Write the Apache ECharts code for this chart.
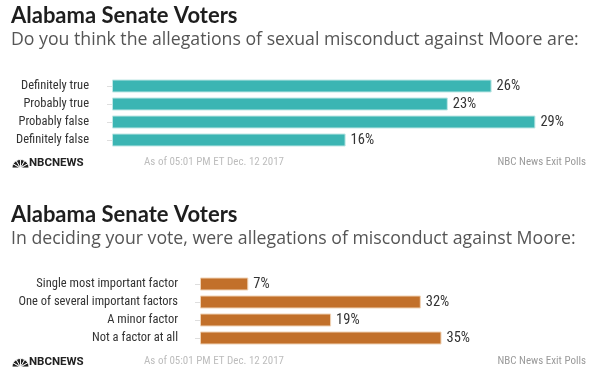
<!DOCTYPE html>
<html><head><meta charset="utf-8">
<script src="https://cdn.jsdelivr.net/npm/echarts@6/dist/echarts.min.js"></script>
<style>html,body{margin:0;padding:0;background:#fff}#c{width:608px;height:388px}</style>
</head><body><div id="c"></div>
<script>
const titleText = 'Alabama Senate Voters';
const q1 = 'Do you think the allegations of sexual misconduct against Moore are:';
const q2 = 'In deciding your vote, were allegations of misconduct against Moore:';
const cats1 = ['Definitely true', 'Probably true', 'Probably false', 'Definitely false'];
const vals1 = [26, 23, 29, 16];
const cats2 = ['Single most important factor', 'One of several important factors', 'A minor factor', 'Not a factor at all'];
const vals2 = [7, 32, 19, 35];
const footLeft = 'NBCNEWS';
const footDate = 'As of 05:01 PM ET Dec. 12 2017';
const footSource = 'NBC News Exit Polls';

const chart = echarts.init(document.getElementById('c'), null, {renderer: 'canvas'});
const cond = '"Roboto Condensed", Roboto, sans-serif';
const sans = 'Lato, "Open Sans", sans-serif';

function gtext(x, y, txt, style) {
  return {type: 'text', left: x, top: y, style: Object.assign({text: txt}, style)};
}
function peacock(cx, cy) {
  const out = [];
  for (let i = 0; i < 6; i++) {
    const a0 = Math.PI + i * Math.PI / 6;
    out.push({
      type: 'sector', silent: true,
      shape: {cx: cx, cy: cy, r: 8.5, r0: 1.5, startAngle: a0, endAngle: a0 + Math.PI / 6},
      style: {fill: '#222', stroke: '#fff', lineWidth: 0.9}
    });
  }
  return out;
}
function footer(y) {
  return [].concat(peacock(20.5, y + 5), [
    gtext(29, y - 6, footLeft, {fontFamily: 'Roboto', fontWeight: 'bold', fontSize: 11.5, fill: '#222'}),
    gtext(144, y - 6, footDate, {fontFamily: cond, fontSize: 11, fill: '#bdbdbd'}),
    {type: 'text', right: 22, top: y - 6, style: {text: footSource, fontFamily: cond, fontSize: 11, fill: '#9a9a9a'}}
  ]);
}

function yAxis(gi, cats, margin) {
  return {
    type: 'category', gridIndex: gi, data: cats, inverse: true, offset: 7,
    axisLine: {show: false},
    axisTick: {show: true, length: 5, alignWithLabel: true, lineStyle: {color: '#dedede'}},
    axisLabel: {margin: margin, fontFamily: cond, fontSize: 12.5, color: '#333'}
  };
}
function xAxis(gi, max) {
  return {type: 'value', gridIndex: gi, min: 0, max: max, show: false, splitLine: {show: false}};
}
function series(i, vals, color, border) {
  return {
    type: 'bar', xAxisIndex: i, yAxisIndex: i, data: vals, barWidth: 13,
    itemStyle: {color: color, borderColor: border, borderWidth: 1},
    label: {show: true, position: 'right', distance: 5, formatter: '{c}%', fontFamily: cond, fontSize: 14.5, color: '#333'},
    silent: true, animation: false
  };
}

chart.setOption({
  backgroundColor: '#fff',
  animation: false,
  title: [
    {text: titleText, left: 11, top: 5, padding: 0, textStyle: {fontFamily: sans, fontWeight: 'bold', fontSize: 22, color: '#1e1e1e'}},
    {text: q1, left: 11, top: 31, padding: 0, textStyle: {fontFamily: '"Open Sans"', fontWeight: 'normal', fontSize: 17.7, color: '#555'}},
    {text: titleText, left: 11, top: 204, padding: 0, textStyle: {fontFamily: sans, fontWeight: 'bold', fontSize: 22, color: '#1e1e1e'}},
    {text: q2, left: 11, top: 230, padding: 0, textStyle: {fontFamily: '"Open Sans"', fontWeight: 'normal', fontSize: 17.7, color: '#555'}}
  ],
  grid: [
    {left: 112, top: 77, width: 438, height: 72, outerBoundsMode: 'none', containLabel: false},
    {left: 200, top: 275, width: 276, height: 72, outerBoundsMode: 'none', containLabel: false}
  ],
  xAxis: [xAxis(0, 30), xAxis(1, 40)],
  yAxis: [yAxis(0, cats1, 16), yAxis(1, cats2, 15)],
  series: [series(0, vals1, '#3bb5b3', '#bfe7e5'), series(1, vals2, '#c2702a', '#f0d2b4')],
  graphic: [].concat(footer(163), footer(362))
});
</script></body></html>
